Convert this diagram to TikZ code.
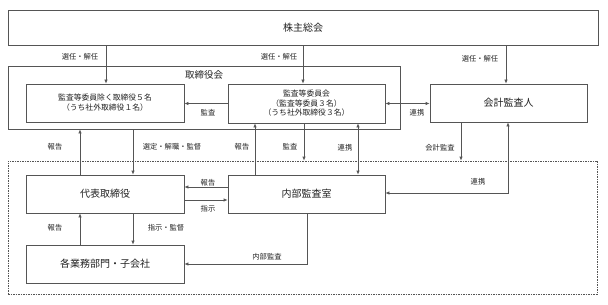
\documentclass[tikz,border=0pt]{standalone}
\usepackage{fontspec}
\setmainfont{Noto Sans CJK JP}
\usetikzlibrary{arrows.meta}
\definecolor{linegray}{HTML}{555555}
\definecolor{txt}{HTML}{222222}
\begin{document}
\begin{tikzpicture}[x=1pt,y=-1pt,
  box/.style={draw=linegray, line width=0.7pt, fill=white, inner sep=0pt, align=center, text=txt, font=\fontsize{10}{12}\selectfont},
  smallbox/.style={box, font=\fontsize{7.8}{10}\selectfont},
  frame/.style={draw=linegray, line width=0.7pt, inner sep=0pt},
  lbl/.style={font=\fontsize{7.3}{9}\selectfont, inner sep=0pt, text=txt},
  arr/.style={draw=linegray, line width=0.7pt, -{Latex[length=4pt,width=3.5pt]}},
  darr/.style={draw=linegray, line width=0.7pt, {Latex[length=4pt,width=3.5pt]}-{Latex[length=4pt,width=3.5pt]}}
]
\useasboundingbox (0,0) rectangle (608,305);
% group frames
\node[frame, minimum width=392pt, minimum height=63pt] (bod) at (204,97.5) {};
\node[font=\fontsize{9.5}{11}\selectfont, inner sep=0pt, text=txt] (bodlbl) at (204,75) {取締役会};
\node[frame, dash pattern=on 1.5pt off 1pt, minimum width=589pt, minimum height=133pt] (grp) at (302.5,227.5) {};
% boxes
\node[box, minimum width=590pt, minimum height=35pt] (kabu) at (303,27.5) {株主総会};
\node[smallbox, minimum width=158pt, minimum height=38pt] (dir) at (105,103) {監査等委員除く取締役５名\\（うち社外取締役１名）};
\node[smallbox, font=\fontsize{7.8}{9.5}\selectfont, minimum width=157pt, minimum height=39pt] (audit) at (306.5,103.5) {監査等委員会\\（監査等委員３名）\\（うち社外取締役３名）};
\node[box, minimum width=157pt, minimum height=38pt] (acct) at (508.5,103) {会計監査人};
\node[box, minimum width=158pt, minimum height=38pt] (rep) at (105,194) {代表取締役};
\node[box, minimum width=157pt, minimum height=38pt] (ia) at (306.5,194) {内部監査室};
\node[box, minimum width=158pt, minimum height=38pt] (div) at (105,264) {各業務部門・子会社};
% shareholders arrows
\draw[arr] (kabu.south -| 106,0) -- (dir.north -| 106,0);
\draw[arr] (kabu.south -| 303,0) -- (audit.north -| 303,0);
\draw[arr] (kabu.south -| 506,0) -- (acct.north -| 506,0);
\node[lbl] (l1) at (80,57) {選任・解任};
\node[lbl] (l2) at (279,57) {選任・解任};
\node[lbl] (l3) at (480,59) {選任・解任};
% audit committee arrows
\draw[arr] (audit.west) -- (dir.east |- audit.west);
\node[lbl] (l4) at (208,113) {監査};
\draw[darr] (audit.east) -- (acct.west |- audit.east);
\node[lbl] (l5) at (417,113) {連携};
% board <-> representative
\draw[arr] (rep.north -| 80,0) -- (bod.south -| 80,0);
\node[lbl] (l6) at (55,147) {報告};
\draw[arr] (bod.south -| 133,0) -- (rep.north -| 133,0);
\node[lbl] (l7) at (172,147) {選定・解職・監督};
% internal audit <-> audit committee
\draw[arr] (ia.north -| 255,0) -- (audit.south -| 255,0);
\node[lbl] (l8) at (242,147) {報告};
\draw[arr] (audit.south -| 304,0) -- (grp.north -| 304,0);
\node[lbl] (l9) at (290,147) {監査};
\draw[darr] (audit.south -| 358,0) -- (ia.north -| 358,0);
\node[lbl] (l10) at (345,148) {連携};
% accounting auditor
\draw[arr] (acct.south -| 461,0) -- (grp.north -| 461,0);
\node[lbl] (l11) at (440,148) {会計監査};
\draw[darr] (ia.east |- 0,193) -| (acct.south -| 508,0);
\node[lbl] (l12) at (478,182) {連携};
% representative <-> internal audit
\draw[arr] (ia.west |- 0,187) -- (rep.east |- 0,187);
\node[lbl] (l13) at (208,182.5) {報告};
\draw[arr] (rep.east |- 0,200) -- (ia.west |- 0,200);
\node[lbl] (l14) at (208,209) {指示};
% representative <-> divisions
\draw[arr] (div.north -| 80,0) -- (rep.south -| 80,0);
\node[lbl] (l15) at (55,228) {報告};
\draw[arr] (rep.south -| 133,0) -- (div.north -| 133,0);
\node[lbl] (l16) at (166,228) {指示・監督};
% internal audit -> divisions
\draw[arr] (ia.south -| 307,0) |- (div.east);
\node[lbl] (l17) at (267,257) {内部監査};
\end{tikzpicture}
\end{document}
